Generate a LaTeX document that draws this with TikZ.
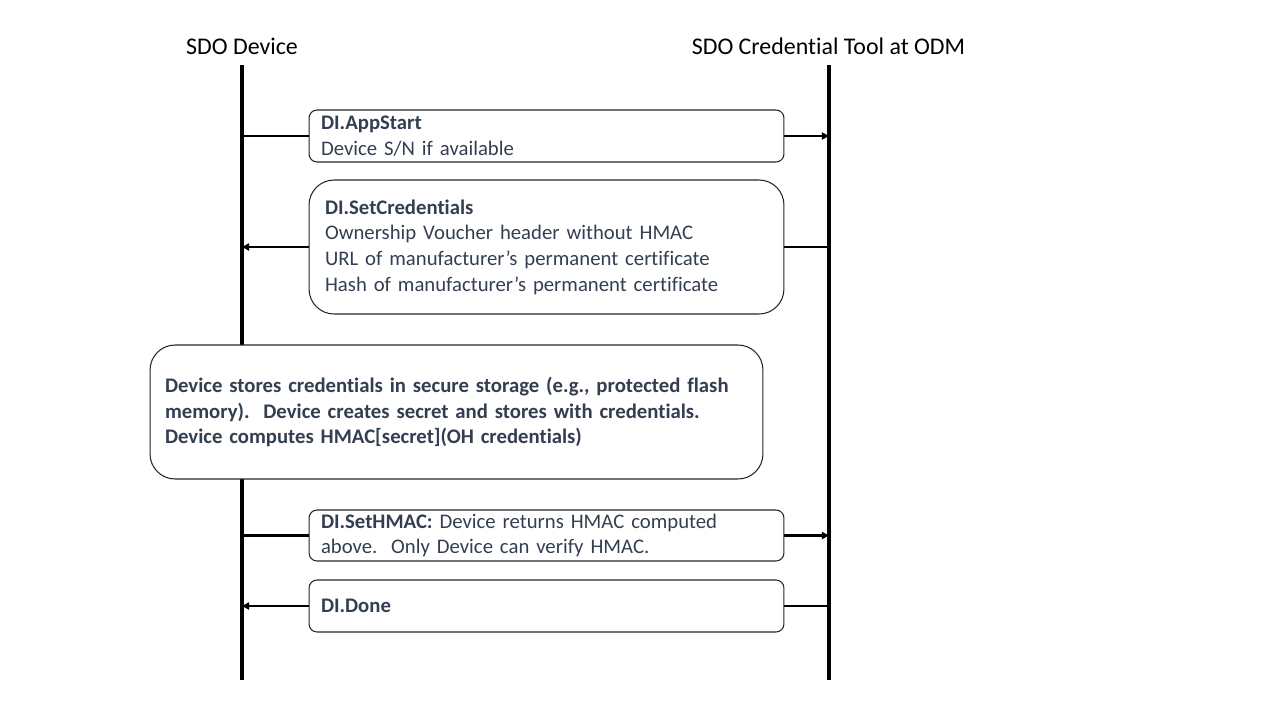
\documentclass[tikz,border=0pt]{standalone}
\usepackage{fontspec}
\setmainfont{Carlito}[Ligatures=NoCommon]
\usetikzlibrary{positioning, arrows.meta}
\definecolor{sdoText}{HTML}{333F50}
\definecolor{sdoLine}{HTML}{000000}
\definecolor{sdoBorder}{HTML}{262626}

\begin{document}
\begin{tikzpicture}[x=0.02cm, y=-0.02cm,
    font=\fontsize{11.8}{14.6}\selectfont,
    lifeline/.style={sdoLine, line width=1.9pt},
    msgline/.style={sdoLine, line width=1.2pt},
    msgtip/.style={-{Triangle[length=4pt, width=4pt]}},
    msgbox/.style={draw=sdoBorder, line width=0.6pt, text=sdoText, align=left,
      inner xsep=2.4mm, inner ysep=0pt, text width=90.2mm},
    actor/.style={font=\fontsize{13.6}{16}\selectfont, text=black}]
    \useasboundingbox (0,0) rectangle (1280,720);
    % lifelines
    \node[actor] (dev) at (242,46) {SDO Device};
    \node[actor] (odm) at (828.5,46) {SDO Credential Tool at ODM};
    \coordinate (devTop) at (242,65);
    \coordinate (devBot) at (242,680);
    \coordinate (odmTop) at (829,65);
    \coordinate (odmBot) at (829,680);
    \draw[lifeline] (devTop) -- (devBot);
    \draw[lifeline] (odmTop) -- (odmBot);
    % messages
    \node[msgbox, rounded corners=1.6mm, minimum height=10.4mm] (app) at (546.5,136)
      {\textbf{DI.AppStart}\\Device S/N if available};
    \node[msgbox, rounded corners=5mm, minimum height=26.8mm, inner xsep=3.2mm, text width=88.6mm] (cred) at (546.5,247)
      {\textbf{DI.SetCredentials}\\Ownership Voucher header without HMAC\\URL of manufacturer’s permanent certificate\\Hash of manufacturer’s permanent certificate};
    \node[msgbox, fill=white, rounded corners=5mm, minimum height=26.8mm, inner xsep=3mm, text width=116.6mm] (store) at (456.5,412)
      {\textbf{Device stores credentials in secure storage (e.g., protected flash}\\
       \textbf{memory).\ \ Device creates secret and stores with credentials.}\\
       \textbf{Device computes HMAC[secret](OH credentials)}};
    \node[msgbox, rounded corners=1.6mm, minimum height=10.2mm] (hmac) at (546.5,535.5)
      {\textbf{DI.SetHMAC:} Device returns HMAC computed\\above.\ \ Only Device can verify HMAC.};
    \node[msgbox, rounded corners=1.6mm, minimum height=10.4mm] (done) at (546.5,606)
      {\textbf{DI.Done}};
    \draw[msgline] (app.west -| devTop) -- (app.west);
    \draw[msgline, msgtip] (app.east) -- (app.east -| odmTop);
    \draw[msgline, msgtip] (cred.west) -- (cred.west -| devTop);
    \draw[msgline] (cred.east) -- (cred.east -| odmTop);
    \draw[msgline] (hmac.west -| devTop) -- (hmac.west);
    \draw[msgline, msgtip] (hmac.east) -- (hmac.east -| odmTop);
    \draw[msgline, msgtip] (done.west) -- (done.west -| devTop);
    \draw[msgline] (done.east) -- (done.east -| odmTop);
\end{tikzpicture}
\end{document}
